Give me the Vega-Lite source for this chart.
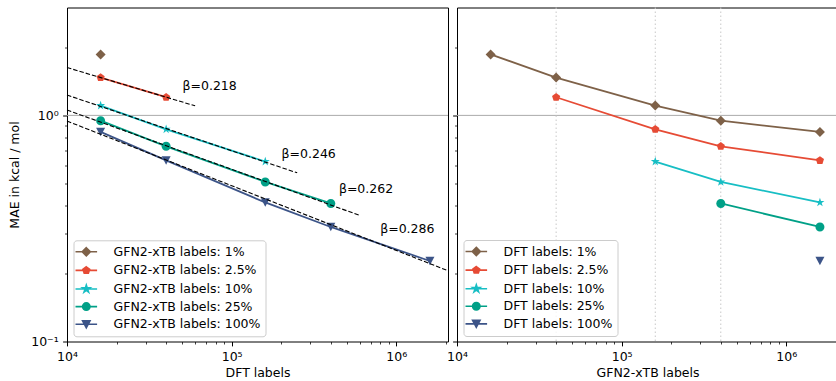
{
  "$schema": "https://vega.github.io/schema/vega-lite/v6.json",
  "padding": {"left": 8, "top": 6.5, "right": 0, "bottom": 0},
  "background": "white",
  "config": {
    "font": "DejaVu Sans",
    "view": {"stroke": "#000000", "strokeWidth": 1},
    "axis": {
      "labelFont": "DejaVu Sans", "labelFontSize": 12.5, "labelColor": "#000000",
      "titleFont": "DejaVu Sans", "titleFontSize": 12.5, "titleFontWeight": "normal", "titleColor": "#000000",
      "tickColor": "#000000", "domain": false, "grid": false, "labelFlush": false, "labelOverlap": false
    },
    "legend": {
      "labelFont": "DejaVu Sans", "labelFontSize": 12.5, "labelColor": "#000000",
      "strokeColor": "#cccccc", "fillColor": "rgba(255,255,255,0.8)", "cornerRadius": 3,
      "padding": 4.5, "rowPadding": 3.6, "symbolSize": 144, "symbolOffset": 1.3, "labelOffset": 20.2,
      "symbolStrokeWidth": 1.6, "symbolOpacity": 1
    }
  },
  "datasets": {
    "grid": [
      {"dftPct": "1%", "dft": 16000, "gfnPct": "1%", "gfn": 16000, "mae": 1.86},
      {"dftPct": "1%", "dft": 16000, "gfnPct": "2.5%", "gfn": 40000, "mae": 1.47},
      {"dftPct": "1%", "dft": 16000, "gfnPct": "10%", "gfn": 160000, "mae": 1.105},
      {"dftPct": "1%", "dft": 16000, "gfnPct": "25%", "gfn": 400000, "mae": 0.948},
      {"dftPct": "1%", "dft": 16000, "gfnPct": "100%", "gfn": 1600000, "mae": 0.845},
      {"dftPct": "2.5%", "dft": 40000, "gfnPct": "2.5%", "gfn": 40000, "mae": 1.203},
      {"dftPct": "2.5%", "dft": 40000, "gfnPct": "10%", "gfn": 160000, "mae": 0.868},
      {"dftPct": "2.5%", "dft": 40000, "gfnPct": "25%", "gfn": 400000, "mae": 0.73},
      {"dftPct": "2.5%", "dft": 40000, "gfnPct": "100%", "gfn": 1600000, "mae": 0.632},
      {"dftPct": "10%", "dft": 160000, "gfnPct": "10%", "gfn": 160000, "mae": 0.625},
      {"dftPct": "10%", "dft": 160000, "gfnPct": "25%", "gfn": 400000, "mae": 0.508},
      {"dftPct": "10%", "dft": 160000, "gfnPct": "100%", "gfn": 1600000, "mae": 0.412},
      {"dftPct": "25%", "dft": 400000, "gfnPct": "25%", "gfn": 400000, "mae": 0.408},
      {"dftPct": "25%", "dft": 400000, "gfnPct": "100%", "gfn": 1600000, "mae": 0.321},
      {"dftPct": "100%", "dft": 1600000, "gfnPct": "100%", "gfn": 1600000, "mae": 0.227}
    ],
    "fits": [
      {"fit": "a", "dft": 10000, "mae": 1.628}, {"fit": "a", "dft": 60000, "mae": 1.102},
      {"fit": "b", "dft": 10000, "mae": 1.23}, {"fit": "b", "dft": 250000, "mae": 0.557},
      {"fit": "c", "dft": 10000, "mae": 1.056}, {"fit": "c", "dft": 600000, "mae": 0.361},
      {"fit": "d", "dft": 10000, "mae": 0.944}, {"fit": "d", "dft": 2060000, "mae": 0.2056}
    ],
    "betas": [
      {"label": "β=0.218", "dft": 50300, "mae": 1.352},
      {"label": "β=0.246", "dft": 201000, "mae": 0.676},
      {"label": "β=0.262", "dft": 448000, "mae": 0.472},
      {"label": "β=0.286", "dft": 798000, "mae": 0.313}
    ],
    "hline": [{"mae": 1}],
    "vlines": [{"gfn": 40000}, {"gfn": 160000}, {"gfn": 400000}]
  },
  "spacing": -5,
  "resolve": {"legend": {"color": "independent", "shape": "independent"}},
  "hconcat": [
    {
      "width": 381,
      "height": 334,
      "layer": [
        {
          "data": {"name": "hline"},
          "mark": {"type": "rule", "color": "#aaaaaa", "strokeWidth": 1},
          "encoding": {
            "y": {"field": "mae", "type": "quantitative", "scale": {"type": "log", "domain": [0.1, 3], "nice": false},
              "title": "MAE in kcal / mol",
              "axis": {
                "values": [0.1, 0.2, 0.3, 0.4, 0.5, 0.6, 0.7, 0.8, 0.9, 1, 2],
                "labelExpr": "datum.value == 1 ? '10⁰' : datum.value == 0.1 ? '10⁻¹' : ''",
                "tickSize": {"condition": {"test": "datum.value == 1 || datum.value == 0.1", "value": 4.4}, "value": 2.5},
                "tickWidth": {"condition": {"test": "datum.value == 1 || datum.value == 0.1", "value": 1}, "value": 0.75},
                "labelPadding": 4.4, "titlePadding": 9
              }
            }
          }
        },
        {
          "data": {"name": "grid"},
          "mark": {"type": "line", "strokeWidth": 1.8},
          "encoding": {
            "x": {"field": "dft", "type": "quantitative", "scale": {"type": "log", "domain": [10000, 2060000], "nice": false},
              "title": "DFT labels",
              "axis": {
                "values": [10000, 20000, 30000, 40000, 50000, 60000, 70000, 80000, 90000, 100000, 200000, 300000, 400000, 500000, 600000, 700000, 800000, 900000, 1000000, 2000000],
                "labelExpr": "datum.value == 10000 ? '10⁴' : datum.value == 100000 ? '10⁵' : datum.value == 1000000 ? '10⁶' : ''",
                "tickSize": {"condition": {"test": "datum.value == 10000 || datum.value == 100000 || datum.value == 1000000", "value": 4.4}, "value": 2.5},
                "tickWidth": {"condition": {"test": "datum.value == 10000 || datum.value == 100000 || datum.value == 1000000", "value": 1}, "value": 0.75},
                "labelPadding": 4.4, "titlePadding": 4
              }
            },
            "y": {"field": "mae", "type": "quantitative", "scale": {"type": "log"}},
            "color": {"field": "gfnPct", "type": "nominal",
              "scale": {"domain": ["1%", "2.5%", "10%", "25%", "100%"], "range": ["#7E6148", "#E64B35", "#17BEC4", "#00A087", "#3C5488"]},
              "legend": {"orient": "none", "legendX": 6.5, "legendY": 232.8, "title": null, "symbolSize": 144, "labelExpr": "'GFN2-xTB labels: ' + datum.label"}}
          }
        },
        {
          "data": {"name": "grid"},
          "mark": {"type": "point", "filled": true, "opacity": 1, "size": 0},
          "encoding": {
            "x": {"field": "dft", "type": "quantitative", "scale": {"type": "log"}},
            "y": {"field": "mae", "type": "quantitative", "scale": {"type": "log"}},
            "color": {"field": "gfnPct", "type": "nominal",
              "legend": {"orient": "none", "legendX": 6.5, "legendY": 232.8, "title": null, "symbolSize": 144, "labelExpr": "'GFN2-xTB labels: ' + datum.label"}},
            "shape": {"field": "gfnPct", "type": "nominal",
              "scale": {"domain": ["1%", "2.5%", "10%", "25%", "100%"],
                "range": ["M-1.8,0L1.8,0M0,-0.68L0.68,0L0,0.68L-0.68,0Z", "M-1.8,0L1.8,0M0,-0.59L0.562,-0.182L0.347,0.477L-0.347,0.477L-0.562,-0.182Z", "M-1.8,0L1.8,0M0,-0.65L0.144,-0.199L0.616,-0.2L0.234,0.076L0.38,0.524L0,0.246L-0.38,0.524L-0.234,0.076L-0.616,-0.2L-0.144,-0.199Z", "M-1.8,0L1.8,0M0.62,0A0.62,0.62,0,1,1,-0.62,0A0.62,0.62,0,1,1,0.62,0Z", "M-1.8,0L1.8,0M-0.62,-0.58L0.62,-0.58L0,0.58Z"]},
              "legend": {"orient": "none", "legendX": 6.5, "legendY": 232.8, "title": null, "symbolSize": 144, "labelExpr": "'GFN2-xTB labels: ' + datum.label"}}
          }
        },
        {
          "data": {"name": "grid"}, "transform": [{"filter": "datum.gfnPct == '1%'"}],
          "mark": {"type": "point", "filled": true, "opacity": 1, "size": 100, "color": "#7E6148", "shape": "M0,-1L1,0L0,1L-1,0Z"},
          "encoding": {"x": {"field": "dft", "type": "quantitative", "scale": {"type": "log"}}, "y": {"field": "mae", "type": "quantitative", "scale": {"type": "log"}}}
        },
        {
          "data": {"name": "grid"}, "transform": [{"filter": "datum.gfnPct == '2.5%'"}],
          "mark": {"type": "point", "filled": true, "opacity": 1, "size": 100, "color": "#E64B35", "shape": "M0,-0.86L0.818,-0.266L0.505,0.696L-0.505,0.696L-0.818,-0.266Z"},
          "encoding": {"x": {"field": "dft", "type": "quantitative", "scale": {"type": "log"}}, "y": {"field": "mae", "type": "quantitative", "scale": {"type": "log"}}}
        },
        {
          "data": {"name": "grid"}, "transform": [{"filter": "datum.gfnPct == '10%'"}],
          "mark": {"type": "point", "filled": true, "opacity": 1, "size": 100, "color": "#17BEC4", "shape": "M0,-0.95L0.213,-0.294L0.904,-0.294L0.345,0.112L0.558,0.769L0,0.363L-0.558,0.769L-0.345,0.112L-0.904,-0.294L-0.213,-0.294Z"},
          "encoding": {"x": {"field": "dft", "type": "quantitative", "scale": {"type": "log"}}, "y": {"field": "mae", "type": "quantitative", "scale": {"type": "log"}}}
        },
        {
          "data": {"name": "grid"}, "transform": [{"filter": "datum.gfnPct == '25%'"}],
          "mark": {"type": "point", "filled": true, "opacity": 1, "size": 100, "color": "#00A087", "shape": "M0.9,0A0.9,0.9,0,1,1,-0.9,0A0.9,0.9,0,1,1,0.9,0Z"},
          "encoding": {"x": {"field": "dft", "type": "quantitative", "scale": {"type": "log"}}, "y": {"field": "mae", "type": "quantitative", "scale": {"type": "log"}}}
        },
        {
          "data": {"name": "grid"}, "transform": [{"filter": "datum.gfnPct == '100%'"}],
          "mark": {"type": "point", "filled": true, "opacity": 1, "size": 100, "color": "#3C5488", "shape": "M-0.9,-0.85L0.9,-0.85L0,0.85Z"},
          "encoding": {"x": {"field": "dft", "type": "quantitative", "scale": {"type": "log"}}, "y": {"field": "mae", "type": "quantitative", "scale": {"type": "log"}}}
        },
        {
          "data": {"name": "fits"},
          "mark": {"type": "line", "color": "#000000", "strokeWidth": 1.1, "strokeDash": [4.5, 2]},
          "encoding": {
            "x": {"field": "dft", "type": "quantitative", "scale": {"type": "log"}},
            "y": {"field": "mae", "type": "quantitative", "scale": {"type": "log"}},
            "detail": {"field": "fit", "type": "nominal"}
          }
        },
        {
          "data": {"name": "betas"},
          "mark": {"type": "text", "align": "left", "baseline": "middle", "fontSize": 12.5, "font": "DejaVu Sans", "color": "#000000"},
          "encoding": {
            "x": {"field": "dft", "type": "quantitative", "scale": {"type": "log"}},
            "y": {"field": "mae", "type": "quantitative", "scale": {"type": "log"}},
            "text": {"field": "label", "type": "nominal"}
          }
        }
      ]
    },
    {
      "width": 381,
      "height": 334,
      "layer": [
        {
          "data": {"name": "hline"},
          "mark": {"type": "rule", "color": "#aaaaaa", "strokeWidth": 1},
          "encoding": {
            "y": {"field": "mae", "type": "quantitative", "scale": {"type": "log", "domain": [0.1, 3], "nice": false},
              "title": null,
              "axis": {
                "values": [0.1, 0.2, 0.3, 0.4, 0.5, 0.6, 0.7, 0.8, 0.9, 1, 2],
                "labels": false, "minExtent": 0, "maxExtent": 0, "labelPadding": 0,
                "tickSize": {"condition": {"test": "datum.value == 1 || datum.value == 0.1", "value": 4.4}, "value": 2.5},
                "tickWidth": {"condition": {"test": "datum.value == 1 || datum.value == 0.1", "value": 1}, "value": 0.75}
              }
            }
          }
        },
        {
          "data": {"name": "vlines"},
          "mark": {"type": "rule", "color": "#c8c8c8", "strokeWidth": 1, "strokeDash": [1.5, 2.5]},
          "encoding": {
            "x": {"field": "gfn", "type": "quantitative", "scale": {"type": "log"}}
          }
        },
        {
          "data": {"name": "grid"},
          "mark": {"type": "line", "strokeWidth": 1.8},
          "encoding": {
            "x": {"field": "gfn", "type": "quantitative", "scale": {"type": "log", "domain": [10000, 2060000], "nice": false},
              "title": "GFN2-xTB labels",
              "axis": {
                "values": [10000, 20000, 30000, 40000, 50000, 60000, 70000, 80000, 90000, 100000, 200000, 300000, 400000, 500000, 600000, 700000, 800000, 900000, 1000000, 2000000],
                "labelExpr": "datum.value == 10000 ? '10⁴' : datum.value == 100000 ? '10⁵' : datum.value == 1000000 ? '10⁶' : ''",
                "tickSize": {"condition": {"test": "datum.value == 10000 || datum.value == 100000 || datum.value == 1000000", "value": 4.4}, "value": 2.5},
                "tickWidth": {"condition": {"test": "datum.value == 10000 || datum.value == 100000 || datum.value == 1000000", "value": 1}, "value": 0.75},
                "labelPadding": 4.4, "titlePadding": 4
              }
            },
            "y": {"field": "mae", "type": "quantitative", "scale": {"type": "log"}},
            "color": {"field": "dftPct", "type": "nominal",
              "scale": {"domain": ["1%", "2.5%", "10%", "25%", "100%"], "range": ["#7E6148", "#E64B35", "#17BEC4", "#00A087", "#3C5488"]},
              "legend": {"orient": "none", "legendX": 6.5, "legendY": 232.5, "title": null, "symbolSize": 144, "labelExpr": "'DFT labels: ' + datum.label"}}
          }
        },
        {
          "data": {"name": "grid"},
          "mark": {"type": "point", "filled": true, "opacity": 1, "size": 0},
          "encoding": {
            "x": {"field": "gfn", "type": "quantitative", "scale": {"type": "log"}},
            "y": {"field": "mae", "type": "quantitative", "scale": {"type": "log"}},
            "color": {"field": "dftPct", "type": "nominal",
              "legend": {"orient": "none", "legendX": 6.5, "legendY": 232.5, "title": null, "symbolSize": 144, "labelExpr": "'DFT labels: ' + datum.label"}},
            "shape": {"field": "dftPct", "type": "nominal",
              "scale": {"domain": ["1%", "2.5%", "10%", "25%", "100%"],
                "range": ["M-1.8,0L1.8,0M0,-0.68L0.68,0L0,0.68L-0.68,0Z", "M-1.8,0L1.8,0M0,-0.59L0.562,-0.182L0.347,0.477L-0.347,0.477L-0.562,-0.182Z", "M-1.8,0L1.8,0M0,-0.65L0.144,-0.199L0.616,-0.2L0.234,0.076L0.38,0.524L0,0.246L-0.38,0.524L-0.234,0.076L-0.616,-0.2L-0.144,-0.199Z", "M-1.8,0L1.8,0M0.62,0A0.62,0.62,0,1,1,-0.62,0A0.62,0.62,0,1,1,0.62,0Z", "M-1.8,0L1.8,0M-0.62,-0.58L0.62,-0.58L0,0.58Z"]},
              "legend": {"orient": "none", "legendX": 6.5, "legendY": 232.5, "title": null, "symbolSize": 144, "labelExpr": "'DFT labels: ' + datum.label"}}
          }
        },
        {
          "data": {"name": "grid"}, "transform": [{"filter": "datum.dftPct == '1%'"}],
          "mark": {"type": "point", "filled": true, "opacity": 1, "size": 100, "color": "#7E6148", "shape": "M0,-1L1,0L0,1L-1,0Z"},
          "encoding": {"x": {"field": "gfn", "type": "quantitative", "scale": {"type": "log"}}, "y": {"field": "mae", "type": "quantitative", "scale": {"type": "log"}}}
        },
        {
          "data": {"name": "grid"}, "transform": [{"filter": "datum.dftPct == '2.5%'"}],
          "mark": {"type": "point", "filled": true, "opacity": 1, "size": 100, "color": "#E64B35", "shape": "M0,-0.86L0.818,-0.266L0.505,0.696L-0.505,0.696L-0.818,-0.266Z"},
          "encoding": {"x": {"field": "gfn", "type": "quantitative", "scale": {"type": "log"}}, "y": {"field": "mae", "type": "quantitative", "scale": {"type": "log"}}}
        },
        {
          "data": {"name": "grid"}, "transform": [{"filter": "datum.dftPct == '10%'"}],
          "mark": {"type": "point", "filled": true, "opacity": 1, "size": 100, "color": "#17BEC4", "shape": "M0,-0.95L0.213,-0.294L0.904,-0.294L0.345,0.112L0.558,0.769L0,0.363L-0.558,0.769L-0.345,0.112L-0.904,-0.294L-0.213,-0.294Z"},
          "encoding": {"x": {"field": "gfn", "type": "quantitative", "scale": {"type": "log"}}, "y": {"field": "mae", "type": "quantitative", "scale": {"type": "log"}}}
        },
        {
          "data": {"name": "grid"}, "transform": [{"filter": "datum.dftPct == '25%'"}],
          "mark": {"type": "point", "filled": true, "opacity": 1, "size": 100, "color": "#00A087", "shape": "M0.9,0A0.9,0.9,0,1,1,-0.9,0A0.9,0.9,0,1,1,0.9,0Z"},
          "encoding": {"x": {"field": "gfn", "type": "quantitative", "scale": {"type": "log"}}, "y": {"field": "mae", "type": "quantitative", "scale": {"type": "log"}}}
        },
        {
          "data": {"name": "grid"}, "transform": [{"filter": "datum.dftPct == '100%'"}],
          "mark": {"type": "point", "filled": true, "opacity": 1, "size": 100, "color": "#3C5488", "shape": "M-0.9,-0.85L0.9,-0.85L0,0.85Z"},
          "encoding": {"x": {"field": "gfn", "type": "quantitative", "scale": {"type": "log"}}, "y": {"field": "mae", "type": "quantitative", "scale": {"type": "log"}}}
        }
      ]
    }
  ]
}
